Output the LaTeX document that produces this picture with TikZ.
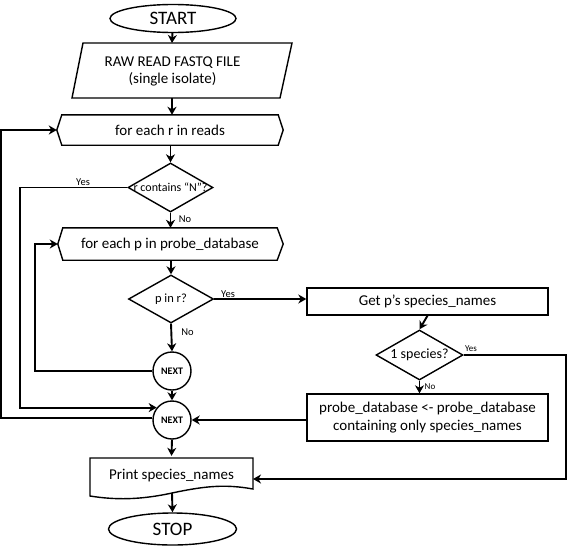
\documentclass[tikz,border=0pt]{standalone}
\usepackage{fontspec}
\setmainfont{Carlito}
\usetikzlibrary{shapes.geometric,arrows.meta,calc}
\begin{document}
\begin{tikzpicture}[x=1pt,y=-1pt,
  shp/.style={draw, line width=1.4pt},
  arr/.style={line width=1.9pt, -{Stealth[length=8pt,width=9pt,inset=2.5pt]}},
  txt/.style={font=\fontsize{15}{17}\selectfont, align=center, inner sep=0},
  term/.style={shp, ellipse, inner sep=0, font=\fontsize{19}{21}\selectfont},
  dia/.style={shp, diamond, inner sep=0},
  nxt/.style={shp, circle, minimum size=38, inner sep=0, font=\bfseries\fontsize{10}{12}\selectfont},
  boxn/.style={shp, rectangle, inner sep=0, align=center, font=\fontsize{15}{18}\selectfont},
  hexn/.style={rectangle, inner sep=0, font=\fontsize{15}{17}\selectfont},
  lab/.style={font=\fontsize{10.5}{12}\selectfont, inner sep=0},
  labs/.style={font=\fontsize{9}{10}\selectfont, inner sep=0},
]
\useasboundingbox (0,0) rectangle (567,546);

% terminals
\node[term, minimum width=126, minimum height=28] (start) at (173,18.5) {START};
\node[term, minimum width=128, minimum height=32] (stop) at (172.5,529) {STOP};

% input parallelogram
\draw[shp] (83,43) -- (292,43) -- (280,98) -- (72,98) -- cycle;
\node[txt] (raw) at (172.5,71) {RAW READ FASTQ FILE\\(single isolate)};
\coordinate (rawtop) at (172,43);
\coordinate (rawbot) at (172,98);

% loop hexagons
\node[hexn, minimum width=216, minimum height=30] (h1) at (170,130) {for each r in reads};
\draw[shp] (h1.north west) -- (h1.north east) -- ([xshift=5]h1.east) -- (h1.south east)
  -- (h1.south west) -- ([xshift=-5]h1.west) -- cycle;
\coordinate (h1tip) at ([xshift=-5]h1.west);

\node[hexn, minimum width=214, minimum height=32] (h2) at (170,244) {for each p in probe\_database};
\draw[shp] (h2.north west) -- (h2.north east) -- ([xshift=6]h2.east) -- (h2.south east)
  -- (h2.south west) -- ([xshift=-5]h2.west) -- cycle;
\coordinate (h2tip) at ([xshift=-5]h2.west);

% decisions
\node[dia, minimum width=85, minimum height=49] (d1) at (170.5,187.5) {};
\node[font=\fontsize{12}{14}\selectfont, inner sep=0] (d1t) at (d1.center) {r contains “N”?};
\node[dia, minimum width=85, minimum height=48] (d2) at (171,299) {};
\node[font=\fontsize{12.5}{14}\selectfont, inner sep=0] (d2t) at (d2.center) {p in r?};
\node[dia, minimum width=87, minimum height=50] (d3) at (419.5,355) {};
\node[font=\fontsize{14}{16}\selectfont, inner sep=0] (d3t) at (d3.center) {1 species?};

% process boxes
\node[boxn, minimum width=241, minimum height=27] (get) at (427.5,301.5) {Get p’s species\_names};
\node[boxn, minimum width=241, minimum height=47] (probe) at (427.5,417.5)
  {probe\_database <- probe\_database\\containing only species\_names};

% NEXT connectors
\node[nxt] (n1) at (172,371) {NEXT};
\node[nxt] (n2) at (172,420) {NEXT};

% output document
\node[txt, minimum width=163, minimum height=40] (print) at (171.5,476) {Print species\_names};
\draw[shp] (90,458) -- (253,458) -- (253,489)
  .. controls (225,484) and (205,486) .. (172,493)
  .. controls (140,500) and (115,500) .. (90,496) -- cycle;
\coordinate (printbot) at (172,493);
\coordinate (printin) at (253,479);

% connectors
\draw[arr] (start) -- (rawtop);
\draw[arr] (rawbot) -- (rawbot |- h1.north);
\draw[arr] (d1 |- h1.south) -- (d1.north);
\draw[arr] (d1.south) -- (d1.south |- h2.north);
\draw[arr] (d1.west) -- ++(-107,0) |- (n2.141);
\draw[arr] (d2 |- h2.south) -- (d2.north);
\draw[arr] (d2.east) -- (d2.east -| get.west);
\draw[arr] (d2.south) -- (n1.north);
\draw[arr] (n1.west) -- ++(-117,0) |- (h2tip);
\draw[arr] (n1.south) -- (n2.north);
\draw[arr] (n2.174) -- ++(-151,0) |- (h1tip);
\draw[arr] (get.south) -- (d3.north);
\draw[arr] (d3.south) -- (d3.south |- probe.north);
\draw[arr] (d3.east) -- ++(102,0) |- (printin);
\draw[arr] (probe.west |- n2.east) -- (n2.east);
\draw[arr] (n2.south) -- (print.north);
\draw[arr] (printbot) -- (stop.north);

% labels
\node[lab] (y1) at (83,182) {Yes};
\node[lab] (no1) at (185,219) {No};
\node[lab] (y2) at (228,294) {Yes};
\node[lab] (no2) at (187.5,332) {No};
\node[labs] (y3) at (471,349) {Yes};
\node[labs] (no3) at (430,387) {No};
\end{tikzpicture}
\end{document}
